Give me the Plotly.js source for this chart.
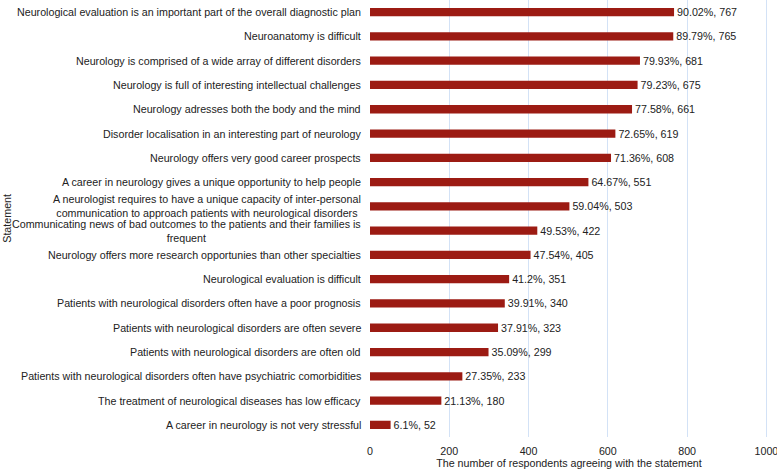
<!DOCTYPE html>
<html>
<head>
<meta charset="utf-8">
<script src="https://cdn.plot.ly/plotly-3.0.1.min.js"></script>
<style>html,body{margin:0;padding:0;background:#fff;}#chart{width:777px;height:471px;}</style>
</head>
<body>
<div id="chart"></div>
<script>
const statements = [
  "Neurological evaluation is an important part of the overall diagnostic plan",
  "Neuroanatomy is difficult",
  "Neurology is comprised of a wide array of different disorders",
  "Neurology is full of interesting intellectual challenges",
  "Neurology adresses both the body and the mind",
  "Disorder localisation in an interesting part of neurology",
  "Neurology offers very good career prospects",
  "A career in neurology gives a unique opportunity to help people",
  "A neurologist requires to have a unique capacity of inter-personal<br>communication to approach patients with neurological disorders",
  "Communicating news of bad outcomes to the patients and their families is<br>frequent",
  "Neurology offers more research opportunies than other specialties",
  "Neurological evaluation is difficult",
  "Patients with neurological disorders often have a poor prognosis",
  "Patients with neurological disorders are often severe",
  "Patients with neurological disorders are often old",
  "Patients with neurological disorders often have psychiatric comorbidities",
  "The treatment of neurological diseases has low efficacy",
  "A career in neurology is not very stressful"
];
const counts = [767, 765, 681, 675, 661, 619, 608, 551, 503, 422, 405, 351, 340, 323, 299, 233, 180, 52];
const percents = [90.02, 89.79, 79.93, 79.23, 77.58, 72.65, 71.36, 64.67, 59.04, 49.53, 47.54, 41.2, 39.91, 37.91, 35.09, 27.35, 21.13, 6.1];
const xTicks = [0, 200, 400, 600, 800, 1000];

const keys = statements.map((s, i) => "s" + i);
const labels = percents.map((p, i) => String(p) + "%, " + counts[i]);

const FONT = "Liberation Sans, Arial, sans-serif";
const FS = 10.7;

const trace = {
  type: "bar",
  orientation: "h",
  x: counts,
  y: keys,
  width: 0.34,
  marker: {color: "#9c1b13", line: {width: 0}},
  text: labels,
  textposition: "outside",
  constraintext: "none",
  textfont: {family: FONT, size: FS, color: "#222"},
  cliponaxis: false,
  hoverinfo: "none"
};

const annotations = statements.map((s, i) => ({
  xref: "paper", yref: "y", x: 0, y: keys[i],
  xanchor: "right", yanchor: "middle", xshift: -7,
  align: "center", text: s, showarrow: false,
  font: {family: FONT, size: FS, color: "#222"}
}));
annotations.push({
  xref: "paper", yref: "paper", x: -0.914, y: 0.5,
  xanchor: "center", yanchor: "middle", textangle: -90,
  text: "Statement", showarrow: false,
  font: {family: FONT, size: FS, color: "#222"}
});

const layout = {
  width: 777, height: 471,
  margin: {l: 370, r: 9, t: 0, b: 34},
  paper_bgcolor: "#fff", plot_bgcolor: "#fff",
  showlegend: false,
  font: {family: FONT, size: FS, color: "#222"},
  xaxis: {
    range: [0, 1004], tickvals: xTicks, ticktext: xTicks.map(String),
    ticklabeloverflow: "allow",
    showgrid: true, gridcolor: "#d3e2f6", gridwidth: 1,
    zeroline: false, showline: false, ticks: "outside", ticklen: 4, tickcolor: "rgba(0,0,0,0)",
    tickfont: {family: FONT, size: FS, color: "#222"},
    title: {text: "The number of respondents agreeing with the statement",
            font: {family: FONT, size: FS, color: "#222"}, standoff: 1}
  },
  yaxis: {
    type: "category", autorange: "reversed",
    showticklabels: false, showgrid: false, zeroline: false, showline: false, ticks: ""
  },
  annotations: annotations
};

Plotly.newPlot("chart", [trace], layout, {displayModeBar: false, staticPlot: true});
</script>
</body>
</html>
